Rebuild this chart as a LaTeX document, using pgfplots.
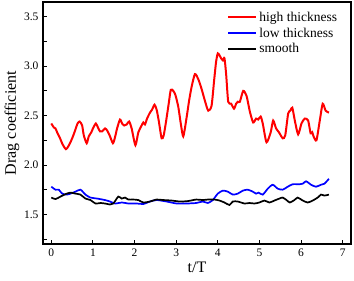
\documentclass[border=0pt]{standalone}
\usepackage{fontspec}
\setmainfont{Liberation Serif}
\usepackage{pgfplots}
\pgfplotsset{compat=1.18}
\begin{document}
\begin{tikzpicture}
\begin{axis}[
  scale only axis,
  width=308pt, height=242pt,
  xmin=-0.2, xmax=7.2,
  ymin=1.2, ymax=3.65,
  xtick={0,1,2,3,4,5,6,7},
  ytick={1.5,2.0,2.5,3.0,3.5},
  minor ytick={1.25,1.75,2.25,2.75,3.25},
  tick align=inside,
  major tick length=4pt, minor tick length=4pt,
  xtick pos=bottom, ytick pos=left,
  axis line style={line width=1.1pt},
  every tick/.style={line width=0.9pt, black},
  /pgf/number format/assume math mode=true,
  yticklabel style={/pgf/number format/fixed, /pgf/number format/fixed zerofill, /pgf/number format/precision=1, font=\fontsize{11.5}{13}\selectfont, xshift=-1pt},
  xticklabel style={font=\fontsize{11.5}{13}\selectfont, yshift=-1pt},
  xlabel={t/T}, ylabel={Drag coefficient},
  label style={font=\fontsize{16}{18}\selectfont},
  xlabel style={yshift=1pt},
  ylabel style={yshift=-2pt},
  legend style={draw=none, fill=none, at={(0.595,0.972)}, anchor=north west,
    font=\fontsize{13.5}{16}\selectfont, row sep=0.8pt, inner sep=1pt},
  legend cell align=left,
  legend image code/.code={\draw[#1] (0pt,0pt) -- (28pt,0pt);},
]
\addplot[red, line width=2pt, smooth, tension=0.4] coordinates {
(0,2.42)(0.06,2.38)(0.1,2.37)(0.14,2.33)(0.2,2.28)(0.27,2.21)(0.35,2.16)(0.41,2.19)(0.46,2.23)(0.52,2.29)(0.58,2.36)(0.63,2.42)(0.68,2.44)(0.74,2.40)(0.78,2.30)(0.85,2.22)(0.9,2.29)(0.96,2.33)(1.0,2.37)(1.07,2.42)(1.12,2.38)(1.17,2.34)(1.22,2.34)(1.29,2.37)(1.34,2.35)(1.4,2.30)(1.48,2.22)(1.53,2.28)(1.58,2.37)(1.65,2.46)(1.7,2.42)(1.75,2.40)(1.81,2.41)(1.87,2.44)(1.93,2.37)(2.02,2.20)(2.09,2.33)(2.17,2.40)(2.21,2.43)(2.25,2.41)(2.3,2.47)(2.37,2.53)(2.42,2.56)(2.48,2.61)(2.53,2.56)(2.58,2.45)(2.65,2.27)(2.7,2.30)(2.76,2.45)(2.82,2.62)(2.87,2.76)(2.93,2.75)(2.98,2.71)(3.05,2.59)(3.11,2.42)(3.17,2.29)(3.25,2.48)(3.31,2.65)(3.37,2.79)(3.45,2.92)(3.53,2.87)(3.61,2.77)(3.69,2.65)(3.77,2.55)(3.85,2.60)(3.91,2.85)(3.96,3.05)(4.0,3.13)(4.04,3.11)(4.08,3.08)(4.12,3.06)(4.16,3.08)(4.2,2.92)(4.25,2.64)(4.32,2.62)(4.39,2.57)(4.44,2.62)(4.48,2.64)(4.53,2.64)(4.61,2.75)(4.69,2.70)(4.77,2.54)(4.85,2.43)(4.92,2.47)(4.97,2.46)(5.03,2.49)(5.08,2.42)(5.17,2.23)(5.27,2.33)(5.33,2.45)(5.40,2.37)(5.47,2.33)(5.56,2.27)(5.62,2.30)(5.69,2.52)(5.74,2.55)(5.79,2.58)(5.85,2.45)(5.93,2.31)(6.01,2.42)(6.09,2.47)(6.17,2.45)(6.23,2.32)(6.27,2.33)(6.30,2.29)(6.37,2.25)(6.45,2.45)(6.52,2.62)(6.59,2.55)(6.67,2.53)
};
\addlegendentry{high thickness}
\addplot[blue, line width=1.7pt, smooth, tension=0.4] coordinates {
(0,1.78)(0.1,1.75)(0.18,1.75)(0.26,1.71)(0.37,1.70)(0.46,1.71)(0.58,1.73)(0.70,1.75)(0.82,1.70)(0.94,1.67)(1.10,1.66)(1.29,1.645)(1.41,1.63)(1.53,1.61)(1.70,1.62)(1.85,1.61)(2.05,1.61)(2.21,1.605)(2.37,1.63)(2.53,1.645)(2.77,1.63)(3.01,1.61)(3.25,1.61)(3.48,1.615)(3.64,1.63)(3.76,1.615)(3.88,1.645)(4.0,1.71)(4.12,1.74)(4.24,1.73)(4.36,1.70)(4.48,1.71)(4.6,1.74)(4.72,1.75)(4.84,1.73)(4.92,1.71)(4.98,1.72)(5.08,1.70)(5.2,1.76)(5.32,1.80)(5.44,1.76)(5.56,1.75)(5.68,1.78)(5.80,1.805)(5.96,1.805)(6.04,1.81)(6.12,1.835)(6.24,1.80)(6.36,1.78)(6.48,1.80)(6.56,1.81)(6.67,1.86)
};
\addlegendentry{low thickness}
\addplot[black, line width=1.7pt, smooth, tension=0.4] coordinates {
(0,1.67)(0.1,1.655)(0.22,1.68)(0.34,1.705)(0.46,1.72)(0.58,1.71)(0.70,1.70)(0.82,1.66)(0.94,1.645)(1.06,1.61)(1.18,1.615)(1.29,1.61)(1.41,1.60)(1.49,1.61)(1.61,1.68)(1.69,1.66)(1.77,1.67)(1.85,1.65)(1.97,1.65)(2.09,1.645)(2.21,1.62)(2.37,1.63)(2.53,1.65)(2.69,1.645)(2.89,1.64)(3.09,1.63)(3.29,1.635)(3.48,1.65)(3.64,1.645)(3.76,1.65)(3.92,1.65)(4.04,1.64)(4.16,1.62)(4.28,1.595)(4.36,1.63)(4.48,1.63)(4.64,1.61)(4.76,1.615)(4.88,1.61)(5.0,1.62)(5.12,1.64)(5.24,1.62)(5.36,1.64)(5.48,1.66)(5.56,1.67)(5.65,1.645)(5.73,1.62)(5.84,1.645)(5.92,1.67)(6.04,1.64)(6.16,1.62)(6.28,1.64)(6.40,1.67)(6.48,1.70)(6.56,1.69)(6.67,1.70)
};
\addlegendentry{smooth}
\end{axis}
\pgfresetboundingbox
\path ([shift={(-43pt,-37pt)}]current axis.south west) rectangle ([shift={(3pt,2pt)}]current axis.north east);
\end{tikzpicture}
\end{document}
